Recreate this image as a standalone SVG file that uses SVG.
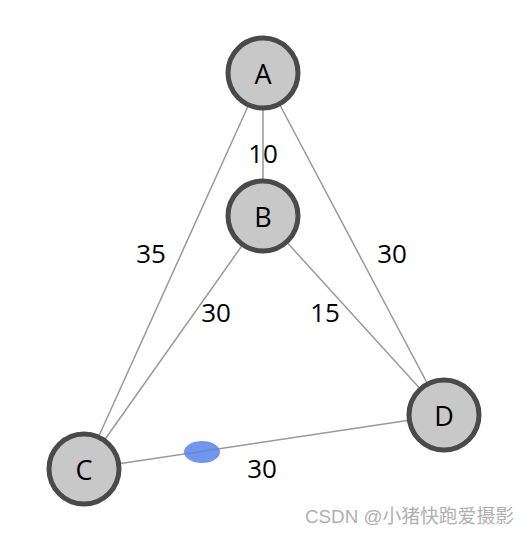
<svg xmlns="http://www.w3.org/2000/svg" width="532" height="535" viewBox="0 0 532 535">
<style>
.edge{stroke:#999;stroke-width:1.5;fill:none}
.node circle{fill:#c8c8c8;stroke:#4a4a4a;stroke-width:5}
.node text{font-family:"Open Sans","Noto Sans",sans-serif;font-size:27px;fill:#000;text-anchor:middle;dominant-baseline:central}
.lbl{font-family:"Open Sans","Noto Sans",sans-serif;font-size:26px;fill:#000;text-anchor:middle;dominant-baseline:central}
</style>
<rect width="532" height="535" fill="#fff"/>
<g id="connectors">
<line class="edge" x1="263" y1="73" x2="263" y2="216"/>
<line class="edge" x1="263" y1="73" x2="84" y2="469"/>
<line class="edge" x1="263" y1="73" x2="444" y2="415"/>
<line class="edge" x1="263" y1="216" x2="84" y2="469"/>
<line class="edge" x1="263" y1="216" x2="444" y2="415"/>
<line class="edge" x1="84" y1="469" x2="444" y2="415"/>
<ellipse cx="202" cy="452" rx="18" ry="11" fill="#5b84ea" fill-opacity="0.85"/>
<text class="lbl" x="263" y="153">10</text>
<text class="lbl" x="151" y="253">35</text>
<text class="lbl" x="392" y="253">30</text>
<text class="lbl" x="216" y="312">30</text>
<text class="lbl" x="325" y="312">15</text>
<text class="lbl" x="262" y="468">30</text>
</g>
<g id="A" class="node"><circle cx="263" cy="73" r="35"/><text x="263" y="73">A</text></g>
<g id="B" class="node"><circle cx="263" cy="216" r="35"/><text x="263" y="216">B</text></g>
<g id="C" class="node"><circle cx="84" cy="469" r="35"/><text x="84" y="469">C</text></g>
<g id="D" class="node"><circle cx="444" cy="415" r="35"/><text x="444" y="415">D</text></g>
<text x="305" y="523" font-family="'Liberation Sans','Noto Sans CJK SC',sans-serif" font-size="18.8" fill="#b0b0b0">CSDN @小猪快跑爱摄影</text>
</svg>
